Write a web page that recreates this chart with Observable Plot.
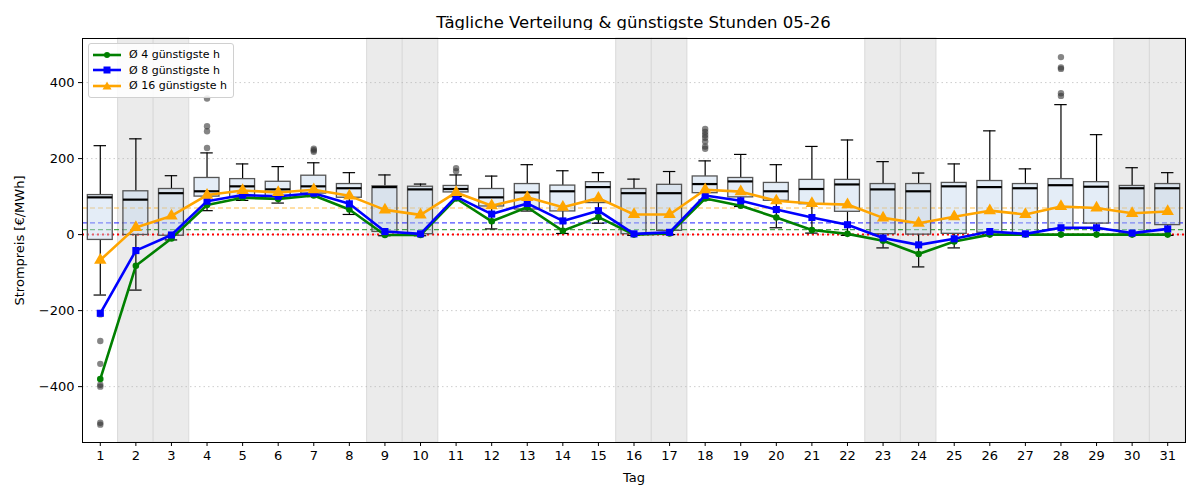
<!DOCTYPE html>
<html><head><meta charset="utf-8">
<script src="https://cdn.jsdelivr.net/npm/d3@7"></script>
<script src="https://cdn.jsdelivr.net/npm/@observablehq/plot@0.6"></script>
<style>
body{margin:0;background:#fff;font-family:"DejaVu Sans",sans-serif;}
#wrap{position:relative;width:1200px;height:500px;overflow:hidden;}
#title{position:absolute;top:13px;left:82px;width:1103px;text-align:center;font-size:16.5px;color:#000;}
#chart{position:absolute;top:30px;left:0;}
#legend{position:absolute;left:88px;top:43px;background:rgba(255,255,255,0.85);border:1px solid #d0d0d0;border-radius:3px;padding:3px 6px 3px 4px;font-size:11px;color:#000;}
#legend .row{display:flex;align-items:center;height:15.5px;}
#legend svg{margin-right:8px;}
</style></head>
<body><div id="wrap"><div id="title">Tägliche Verteilung &amp; günstigste Stunden 05-26</div><div id="chart"></div><div id="legend"></div></div>
<script>
const days = Array.from({length:31},(_,i)=>i+1);
const weekendDays = [2,3,9,10,16,17,23,24,30,31];
const yTicks = [-400,-200,0,200,400];
const q3 =      [104,114,120,149,146,139,155,133,127,126,128,120,133,129,138,120,131,153,149,136,144,144,133,133,136,141,133,146,138,128,133];
const medians = [98,92,109,114,127,119,127,122,125,119,120,98,111,114,125,109,109,133,140,114,120,132,119,114,127,125,122,130,126,122,122];
const q1 =      [-14,-1,-3,100,97,94,108,97,7,1,111,74,66,61,83,1,10,109,98,89,80,60,1,0,2,5,3,14,29,3,25];
const whiskLo = [-159,-146,-14,63,90,83,100,53,-3,-3,100,15,62,3,30,-2,0,91,74,18,4,-2,-35,-85,-35,-2,-2,-2,-2,-2,-2];
const whiskHi = [234,252,155,215,186,179,189,163,157,133,157,154,184,168,163,146,166,194,211,184,232,249,192,162,186,273,173,342,263,176,163];
const outlierDays =   [1,1,1,1,1,1,1, 4,4,4,4, 7,7,7, 11,11, 18,18,18,18,18,18,18, 28,28,28,28,28];
const outlierValues = [-210,-280,-340,-395,-400,-495,-500, 228,272,285,358, 218,222,226, 167,175, 226,232,245,255,262,270,278, 365,372,436,440,467];
const cheap4 =  [-380,-82,-10,78,97,94,103,66,-1,-1,95,35,72,10,46,0,3,95,76,45,12,2,-16,-51,-18,0,0,0,0,0,0];
const cheap8 =  [-207,-42,-1,88,104,101,109,81,8,2,100,54,82,36,63,2,6,103,89,66,45,26,-9,-27,-11,8,2,18,18,4,15];
const cheap16 = [-67,19,49,104,116,111,118,102,65,52,111,76,98,72,96,53,53,118,113,89,82,79,44,30,47,63,53,74,70,56,61];
const avg4 = 13, avg8 = 31, avg16 = 70;
const seriesNames = ["Ø 4 günstigste h","Ø 8 günstigste h","Ø 16 günstigste h"];
const seriesColors = ["green","blue","orange"];
const seriesSymbols = ["circle","square","triangle"];

const boxes = days.map((d,i)=>({day:d,q1:q1[i],med:medians[i],q3:q3[i],lo:whiskLo[i],hi:whiskHi[i]}));
const outliers = outlierDays.map((d,i)=>({day:d,value:outlierValues[i]}));
const seriesData = [cheap4,cheap8,cheap16];
const lines = seriesData.flatMap((arr,s)=>arr.map((v,i)=>({day:days[i],value:v,s})));
const refs = [{v:avg4,c:"green"},{v:avg8,c:"blue"},{v:avg16,c:"orange"}];

const boxW = 0.7, capW = 0.35;
const chart = Plot.plot({
  width:1200, height:470,
  marginTop:8, marginBottom:58, marginLeft:82, marginRight:15,
  style:{fontFamily:"DejaVu Sans, sans-serif", fontSize:"13px", background:"white", color:"black"},
  x:{domain:[0.5,31.5]},
  y:{domain:[-547,516]},
  marks:[
    Plot.rect(weekendDays,{x1:d=>d-0.5,x2:d=>d+0.5,fill:"#ebebeb",stroke:"#dadada",strokeWidth:1}),
    Plot.gridY(yTicks,{stroke:"#b0b0b0",strokeOpacity:0.8,strokeDasharray:"1.5,3",strokeWidth:0.8}),
    Plot.ruleY([0],{stroke:"red",strokeWidth:2,strokeDasharray:"2,3"}),
    Plot.ruleY(refs,{y:"v",stroke:"c",strokeWidth:1.1,strokeOpacity:0.7,strokeDasharray:"5,3"}),
    Plot.ruleX(boxes,{x:"day",y1:"lo",y2:"q1",stroke:"black",strokeWidth:1.2}),
    Plot.ruleX(boxes,{x:"day",y1:"q3",y2:"hi",stroke:"black",strokeWidth:1.2}),
    Plot.ruleY(boxes,{y:"lo",x1:d=>d.day-capW/2,x2:d=>d.day+capW/2,stroke:"black",strokeWidth:1.2}),
    Plot.ruleY(boxes,{y:"hi",x1:d=>d.day-capW/2,x2:d=>d.day+capW/2,stroke:"black",strokeWidth:1.2}),
    Plot.rect(boxes,{x1:d=>d.day-boxW/2,x2:d=>d.day+boxW/2,y1:"q1",y2:"q3",fill:"#c4d8ee",fillOpacity:0.45,stroke:"#555",strokeWidth:1.3}),
    Plot.ruleY(boxes,{y:"med",x1:d=>d.day-boxW/2,x2:d=>d.day+boxW/2,stroke:"black",strokeWidth:2.2}),
    Plot.dot(outliers,{x:"day",y:"value",r:3.2,fill:"#333",fillOpacity:0.6,stroke:"none"}),
    ...seriesData.flatMap((arr,s)=>{
      const data = lines.filter(d=>d.s===s);
      return [
        Plot.line(data,{x:"day",y:"value",stroke:seriesColors[s],strokeWidth:2.6}),
        Plot.dot(data,{x:"day",y:"value",fill:seriesColors[s],stroke:"none",symbol:()=>seriesSymbols[s],r:s===0?3.3:(s===1?4:4.6)})
      ];
    }),
    Plot.frame({stroke:"black",strokeWidth:1}),
    Plot.axisX({ticks:days,tickFormat:d=>String(d),tickSize:4,tickPadding:4,label:"Tag",labelAnchor:"center",labelArrow:"none",labelOffset:39}),
    Plot.axisY({ticks:yTicks,tickSize:4,tickPadding:4,label:"Strompreis [€/MWh]",labelAnchor:"center",labelArrow:"none",labelOffset:68})
  ]
});
document.getElementById("chart").appendChild(chart);

const leg = document.getElementById("legend");
seriesNames.forEach((name,s)=>{
  const row = document.createElement("div"); row.className="row";
  let marker;
  if(s===0) marker = `<circle cx="14" cy="6" r="3" fill="${seriesColors[s]}"/>`;
  else if(s===1) marker = `<rect x="10.5" y="2.5" width="7" height="7" fill="${seriesColors[s]}"/>`;
  else marker = `<polygon points="14,1.5 18.5,9.5 9.5,9.5" fill="${seriesColors[s]}"/>`;
  row.innerHTML = `<svg width="28" height="12"><line x1="0" y1="6" x2="28" y2="6" stroke="${seriesColors[s]}" stroke-width="2.6"/>${marker}</svg><span>${name}</span>`;
  leg.appendChild(row);
});
</script></body></html>
